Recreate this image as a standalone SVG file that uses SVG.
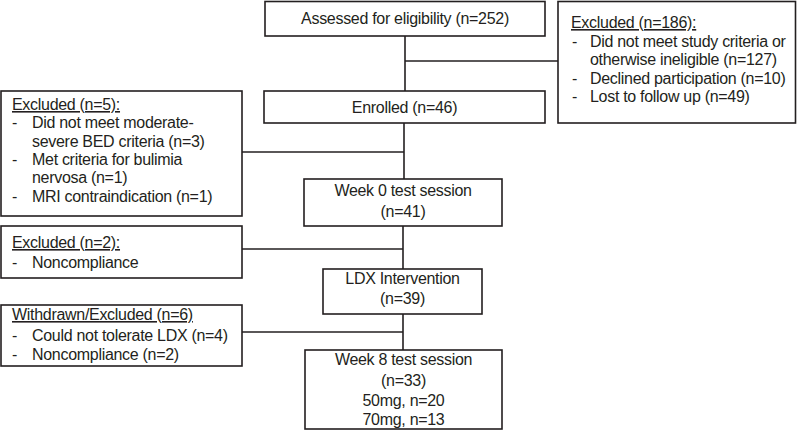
<svg xmlns="http://www.w3.org/2000/svg" width="797" height="430" viewBox="0 0 797 430">
<style>
  .box { fill: #ffffff; stroke: #231f20; stroke-width: 1.6; }
  .conn { stroke: #231f20; stroke-width: 1.6; fill: none; }
  text { font-family: "Liberation Sans", Arial, sans-serif; font-size: 16px; letter-spacing: -0.3px; fill: #231f20; }
  .c { text-anchor: middle; }
  .u { text-decoration: underline; }
</style>
<rect width="797" height="430" fill="#ffffff"/>
<g id="connectors">
  <line class="conn" x1="405" y1="36" x2="405" y2="91"/>
  <line class="conn" x1="405" y1="61" x2="558" y2="61"/>
  <line class="conn" x1="404" y1="123" x2="404" y2="179"/>
  <line class="conn" x1="242" y1="152" x2="404" y2="152"/>
  <line class="conn" x1="403" y1="226" x2="403" y2="269"/>
  <line class="conn" x1="242" y1="249" x2="403" y2="249"/>
  <line class="conn" x1="403" y1="314" x2="403" y2="350"/>
  <line class="conn" x1="242" y1="332" x2="403" y2="332"/>
</g>
<g id="assessed">
  <rect class="box" x="265" y="1.5" width="280" height="34.5"/>
  <text class="c" x="405" y="24">Assessed for eligibility (n=252)</text>
</g>
<g id="excluded186">
  <rect class="box" x="558" y="1.5" width="237.5" height="121.5"/>
  <text class="u" x="571" y="28">Excluded (n=186):</text>
  <text x="572" y="47">-</text><text x="590" y="47">Did not meet study criteria or</text>
  <text x="590" y="65">otherwise ineligible (n=127)</text>
  <text x="572" y="84">-</text><text x="590" y="84">Declined participation (n=10)</text>
  <text x="572" y="102">-</text><text x="590" y="102">Lost to follow up (n=49)</text>
</g>
<g id="enrolled">
  <rect class="box" x="264" y="91" width="281" height="32"/>
  <text class="c" x="404.5" y="113">Enrolled (n=46)</text>
</g>
<g id="excluded5">
  <rect class="box" x="1" y="91" width="241" height="125"/>
  <text class="u" x="12" y="110">Excluded (n=5):</text>
  <text x="12" y="128">-</text><text x="32" y="128">Did not meet moderate-</text>
  <text x="32" y="147">severe BED criteria (n=3)</text>
  <text x="12" y="165">-</text><text x="32" y="165">Met criteria for bulimia</text>
  <text x="32" y="183">nervosa (n=1)</text>
  <text x="12" y="202">-</text><text x="32" y="202">MRI contraindication (n=1)</text>
</g>
<g id="week0">
  <rect class="box" x="304" y="179" width="198" height="47"/>
  <text class="c" x="403" y="196">Week 0 test session</text>
  <text class="c" x="403" y="217">(n=41)</text>
</g>
<g id="excluded2">
  <rect class="box" x="1" y="226" width="241" height="52"/>
  <text class="u" x="12" y="248">Excluded (n=2):</text>
  <text x="12" y="268">-</text><text x="32" y="268">Noncompliance</text>
</g>
<g id="ldx">
  <rect class="box" x="323" y="269" width="159" height="45"/>
  <text class="c" x="402.5" y="284">LDX Intervention</text>
  <text class="c" x="402.5" y="304">(n=39)</text>
</g>
<g id="withdrawn">
  <rect class="box" x="1" y="305" width="241" height="61"/>
  <text class="u" x="12" y="320">Withdrawn/Excluded (n=6)</text>
  <text x="12" y="341">-</text><text x="32" y="341">Could not tolerate LDX (n=4)</text>
  <text x="12" y="360">-</text><text x="32" y="360">Noncompliance (n=2)</text>
</g>
<g id="week8">
  <rect class="box" x="305" y="350" width="197" height="79"/>
  <text class="c" x="403.5" y="365">Week 8 test session</text>
  <text class="c" x="403.5" y="386">(n=33)</text>
  <text class="c" x="403.5" y="406">50mg, n=20</text>
  <text class="c" x="403.5" y="425">70mg, n=13</text>
</g>
</svg>
